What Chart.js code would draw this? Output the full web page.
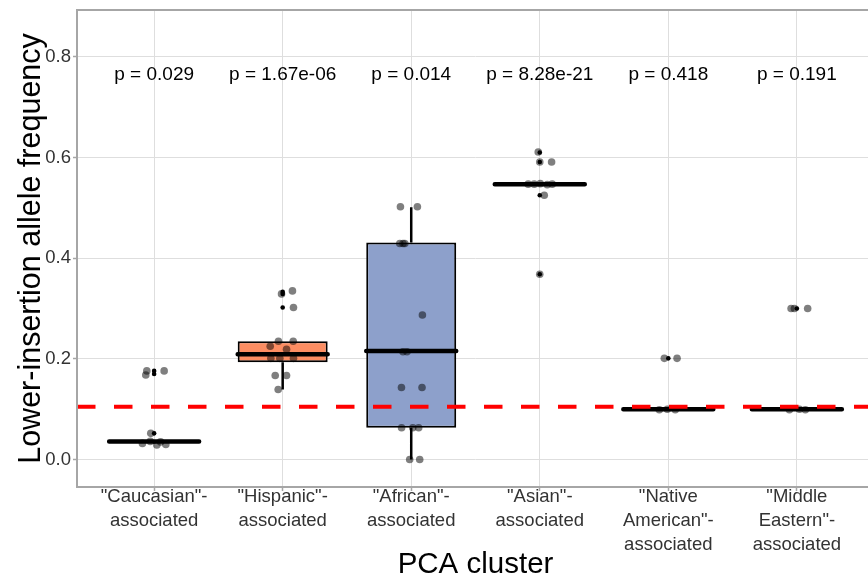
<!DOCTYPE html>
<html>
<head>
<meta charset="utf-8">
<script src="https://cdn.jsdelivr.net/npm/chart.js@4.4.1/dist/chart.umd.min.js"></script>
<style>
  html, body { margin: 0; padding: 0; background: #fff; overflow: hidden; width: 868px; height: 580px; }
  #wrap { width: 900px; height: 580px; }
</style>
</head>
<body>
<div id="wrap"><canvas id="chart" width="900" height="580"></canvas></div>
<script>
// PCA clusters (x axis categories, multi-line labels)
const clusters = [
  ['"Caucasian"-', 'associated'],
  ['"Hispanic"-', 'associated'],
  ['"African"-', 'associated'],
  ['"Asian"-', 'associated'],
  ['"Native', 'American"-', 'associated'],
  ['"Middle', 'Eastern"-', 'associated']
];
const pLabels = ['p = 0.029', 'p = 1.67e-06', 'p = 0.014', 'p = 8.28e-21', 'p = 0.418', 'p = 0.191'];
const boxColors = ['#66C2A5', '#FC8D62', '#8DA0CB', '#E78AC3', '#A6D854', '#FFD92F'];

// Box-plot summaries per cluster
const whiskerLow  = [0.032, 0.139, 0.000, 0.544, 0.098, 0.098];
const q1          = [0.033, 0.193, 0.063, 0.544, 0.098, 0.098];
const median      = [0.036, 0.209, 0.2155, 0.547, 0.100, 0.100];
const q3          = [0.039, 0.235, 0.431, 0.550, 0.102, 0.102];
const whiskerHigh = [0.039, 0.235, 0.501, 0.550, 0.102, 0.102];

// Outliers (drawn at the cluster centre)
const outlierCluster = [1, 1, 1, 2, 2, 2, 4, 4, 4, 4, 5, 6];
const outlierValue   = [0.176, 0.170, 0.052, 0.333, 0.329, 0.302, 0.610, 0.591, 0.525, 0.368, 0.201, 0.300];

// Individual samples with their horizontal jitter
const sampleCluster = [
  1, 1, 1, 1, 1, 1, 1, 1, 1,
  2, 2, 2, 2, 2, 2, 2, 2, 2, 2, 2, 2, 2,
  3, 3, 3, 3, 3, 3, 3, 3, 3, 3, 3, 3, 3, 3, 3,
  4, 4, 4, 4, 4, 4, 4, 4, 4, 4,
  5, 5, 5, 5, 5,
  6, 6, 6, 6, 6, 6
];
const jitterOffset = [
  -0.057, -0.065, 0.078, -0.026, -0.091, 0.021, 0.091, -0.030, 0.050,
  -0.009, 0.076, 0.084, -0.033, 0.082, -0.097, 0.030, -0.092, -0.022, 0.084, -0.058, 0.030, -0.035,
  -0.084, 0.048, -0.089, -0.064, -0.050, 0.087, -0.064, -0.033, -0.076, 0.084, 0.012, 0.058, -0.012, 0.066, -0.075,
  -0.012, 0.000, 0.092, 0.035, 0.000, -0.090, -0.043, 0.004, 0.058, 0.097,
  -0.031, 0.068, -0.070, -0.008, 0.054,
  -0.045, -0.019, 0.084, -0.058, 0.020, 0.066
];
const sampleValue = [
  0.176, 0.168, 0.176, 0.052, 0.032, 0.029, 0.030, 0.036, 0.035,
  0.329, 0.335, 0.302, 0.235, 0.235, 0.225, 0.219, 0.201, 0.201, 0.201, 0.167, 0.167, 0.139,
  0.502, 0.502, 0.429, 0.429, 0.429, 0.287, 0.214, 0.214, 0.143, 0.143, 0.063, 0.063, 0.000, 0.000, 0.063,
  0.611, 0.591, 0.591, 0.525, 0.368, 0.547, 0.547, 0.548, 0.546, 0.547,
  0.201, 0.201, 0.099, 0.100, 0.099,
  0.300, 0.300, 0.300, 0.099, 0.100, 0.099
];

// Reference frequency (dashed line) and y ticks
const referenceFrequency = 0.105;
const yTickValues = [0.0, 0.2, 0.4, 0.6, 0.8];

const X_MIN = 0.4, X_MAX = clusters.length + 0.6;
const Y_MIN = -0.0546, Y_MAX = 0.893;
const HALF_BOX = 0.35;
const P_LABEL_Y = 0.765;
const FONT = "'Liberation Sans', Arial, sans-serif";

const whiskerData = [];
const medianData = [];
clusters.forEach((_, i) => {
  const x = i + 1;
  whiskerData.push({x, y: whiskerLow[i]}, {x, y: q1[i]}, {x, y: null},
                   {x, y: q3[i]}, {x, y: whiskerHigh[i]}, {x, y: null});
  medianData.push({x: x - HALF_BOX, y: median[i]}, {x: x + HALF_BOX, y: median[i]}, {x, y: null});
});

const pValuePlugin = {
  id: 'pValues',
  afterDatasetsDraw(chart) {
    const {ctx, scales: {x, y}} = chart;
    ctx.save();
    ctx.font = '19px ' + FONT;
    ctx.fillStyle = '#000';
    ctx.textAlign = 'center';
    ctx.textBaseline = 'middle';
    pLabels.forEach((t, i) => ctx.fillText(t, x.getPixelForValue(i + 1), y.getPixelForValue(P_LABEL_Y)));
    ctx.restore();
  }
};

const panelBorder = {
  id: 'panelBorder',
  afterDraw(chart) {
    const {ctx, chartArea: a} = chart;
    ctx.save();
    ctx.strokeStyle = '#a6a6a6';
    ctx.lineWidth = 2;
    ctx.strokeRect(a.left, a.top, a.right - a.left, a.bottom - a.top);
    ctx.restore();
  }
};

Chart.defaults.font.family = FONT;

new Chart(document.getElementById('chart'), {
  data: {
    datasets: [
      {
        type: 'line', order: 0,
        data: [{x: X_MIN, y: referenceFrequency}, {x: X_MAX, y: referenceFrequency}],
        borderColor: '#ff0000', borderWidth: 4, borderDash: [18.5, 18.5],
        pointRadius: 0, fill: false
      },
      {
        type: 'scatter', order: 1,
        data: sampleCluster.map((c, k) => ({x: c + jitterOffset[k], y: sampleValue[k]})),
        backgroundColor: 'rgba(0,0,0,0.5)', borderWidth: 0, pointRadius: 3.8
      },
      {
        type: 'scatter', order: 2,
        data: outlierCluster.map((c, k) => ({x: c, y: outlierValue[k]})),
        backgroundColor: '#000', borderWidth: 0, pointRadius: 2.3
      },
      {
        type: 'line', order: 3, data: medianData, spanGaps: false,
        borderColor: '#000', borderWidth: 4.5, borderCapStyle: 'round',
        pointRadius: 0, fill: false
      },
      {
        type: 'line', order: 4, data: whiskerData, spanGaps: false,
        borderColor: '#000', borderWidth: 2.5, pointRadius: 0, fill: false
      },
      {
        type: 'bar', order: 5,
        data: clusters.map((_, i) => ({x: i + 1, y: [q1[i], q3[i]]})),
        backgroundColor: boxColors, borderColor: '#000', borderWidth: 2,
        borderSkipped: false, barPercentage: 0.7, categoryPercentage: 1.0
      }
    ]
  },
  options: {
    responsive: false,
    animation: false,
    layout: { padding: { top: 10, right: 26, left: 0, bottom: 0 } },
    plugins: { legend: { display: false }, tooltip: { enabled: false } },
    scales: {
      x: {
        type: 'linear', min: X_MIN, max: X_MAX, offset: false,
        afterBuildTicks: s => { s.ticks = clusters.map((_, i) => ({value: i + 1})); },
        afterFit: s => { s.height = 93; s.paddingLeft = 0; s.paddingRight = 0; },
        ticks: {
          callback: v => clusters[Math.round(v) - 1],
          font: { size: 18.5, lineHeight: 1.3 }, color: '#333', padding: -6, maxRotation: 0, autoSkip: false
        },
        grid: { color: '#dedede', lineWidth: 1, tickColor: '#a6a6a6', tickLength: 4, tickWidth: 1.5, offset: false },
        border: { display: false },
        title: { display: true, text: 'PCA cluster', font: { size: 29.5, lineHeight: 1 }, color: '#000', padding: { top: 0, bottom: 0 } }
      },
      y: {
        type: 'linear', min: Y_MIN, max: Y_MAX,
        afterBuildTicks: s => { s.ticks = yTickValues.map(v => ({value: v})); },
        afterFit: s => { s.width = 77; s.paddingTop = 0; s.paddingBottom = 0; },
        ticks: {
          callback: v => Number(v).toFixed(1),
          font: { size: 18.5 }, color: '#333', padding: 2
        },
        grid: { color: '#dedede', lineWidth: 1, tickColor: '#a6a6a6', tickLength: 4, tickWidth: 1.5 },
        border: { display: false },
        title: { display: true, text: 'Lower-insertion allele frequency', font: { size: 30.5, lineHeight: 1.2 }, color: '#000', padding: { top: 13, bottom: 0 } }
      }
    }
  },
  plugins: [pValuePlugin, panelBorder]
});
</script>
</body>
</html>
